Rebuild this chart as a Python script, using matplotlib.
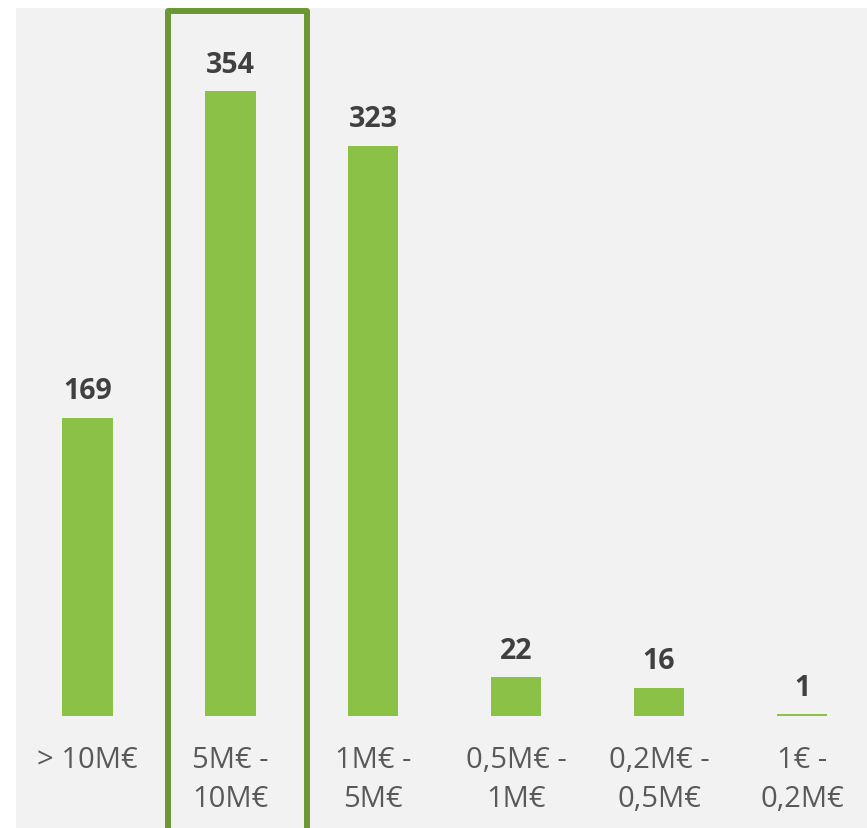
import matplotlib.pyplot as plt
from matplotlib.patches import Rectangle

categories = ["> 10M€", "5M€ -\n10M€", "1M€ -\n5M€", "0,5M€ -\n1M€", "0,2M€ -\n0,5M€", "1€ -\n0,2M€"]
values = [169, 354, 323, 22, 16, 1]
highlight = 1

bar_color = "#8BC147"
box_color = "#6A9834"
bg_color = "#F2F2F2"

plt.rcParams["font.family"] = ["Open Sans", "DejaVu Sans"]

fig = plt.figure(figsize=(8.67, 8.29), dpi=100)
fig.patch.set_facecolor("white")
# gray panel behind the chart
fig.patches.append(Rectangle((16 / 867, 0), 1, 1 - 9 / 829, transform=fig.transFigure,
                             facecolor=bg_color, edgecolor="none", zorder=-5))

ax = fig.add_axes([16 / 867, (829 - 717) / 829, 851 / 867, (717 - 9) / 829])
ax.set_facecolor("none")

x = list(range(len(values)))
ax.bar(x, values, width=0.353, color=bar_color, zorder=2)

for xi, v in zip(x, values):
    ax.annotate(str(v), (xi, v), xytext=(0, 14), textcoords="offset points",
                ha="center", va="baseline", fontsize=20.5, fontweight="bold", color="#404040")

ax.set_xlim(-0.5, 5.455)
ax.set_ylim(0, 401)

ax.set_xticks(x)
ax.set_xticklabels(categories, fontsize=21, color="#595959", linespacing=1.45)
ax.tick_params(axis="x", length=0, pad=21)
ax.set_yticks([])
for s in ax.spines.values():
    s.set_visible(False)

# highlight box around the selected category
box = Rectangle((highlight - 0.434, -100), 0.97, 399.4 + 100,
                facecolor="none", edgecolor=box_color, linewidth=4.3,
                joinstyle="round", clip_on=False, zorder=3)
ax.add_patch(box)

fig.savefig("out.png", dpi=100)
